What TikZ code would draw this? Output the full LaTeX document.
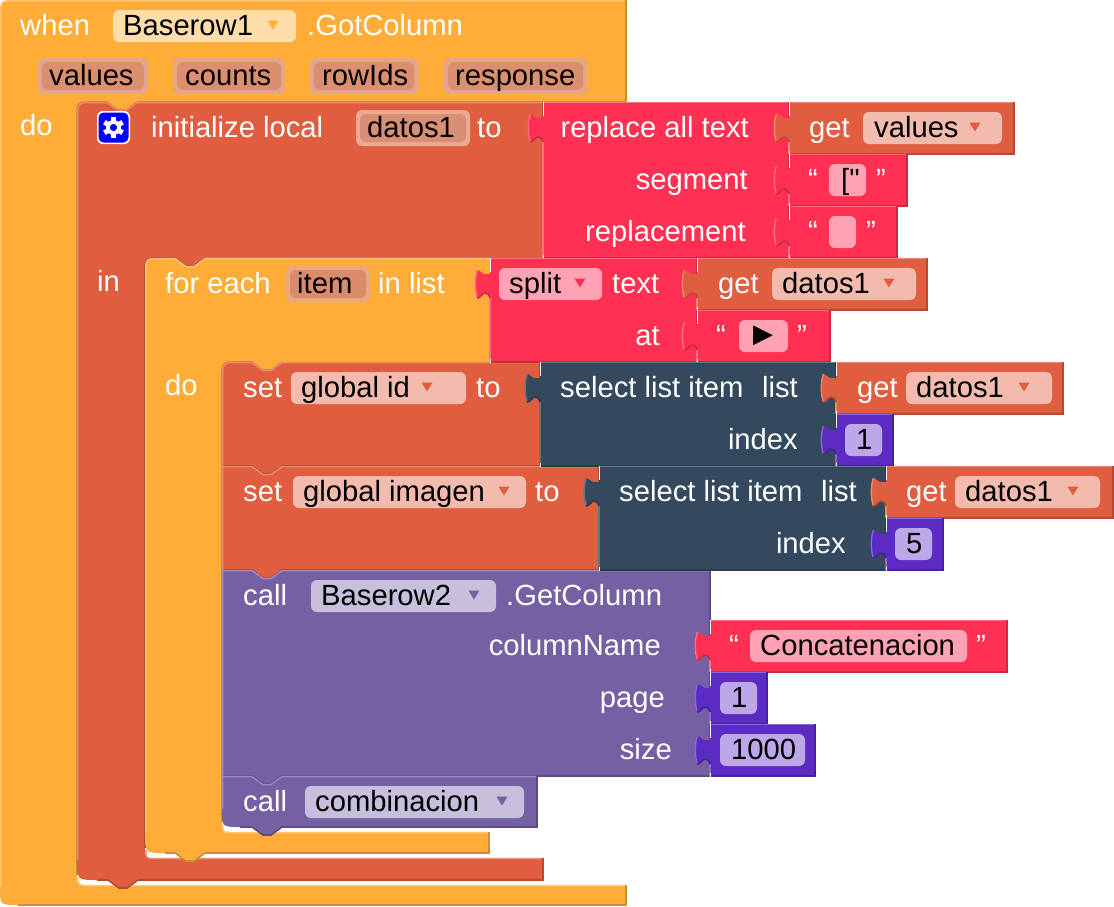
\documentclass[tikz,border=0pt]{standalone}
\usepackage{fontspec}
\setmainfont{Liberation Sans}
\newfontfamily\plainfont{Liberation Sans}
\newfontfamily\symfont{DejaVu Sans}
\definecolor{cOrange}{HTML}{FFAD38}
\definecolor{cOrangeL}{HTML}{FFC878}
\definecolor{cOrangeD}{HTML}{C98F38}
\definecolor{cBrick}{HTML}{E05E3F}
\definecolor{cBrickL}{HTML}{EE8A72}
\definecolor{cBrickD}{HTML}{B34A32}
\definecolor{cPink}{HTML}{FF3052}
\definecolor{cPinkL}{HTML}{FF6F87}
\definecolor{cPinkD}{HTML}{C92A45}
\definecolor{cNavy}{HTML}{34495E}
\definecolor{cNavyL}{HTML}{647588}
\definecolor{cNavyD}{HTML}{2A3A4B}
\definecolor{cPurple}{HTML}{7460A3}
\definecolor{cPurpleL}{HTML}{9C8CBF}
\definecolor{cPurpleD}{HTML}{5C4C82}
\definecolor{cViolet}{HTML}{5B2BC4}
\definecolor{cVioletL}{HTML}{8A68D8}
\definecolor{cVioletD}{HTML}{46219A}
\definecolor{fOrange}{HTML}{FFDDAB}
\definecolor{fBrick}{HTML}{F3BBAD}
\definecolor{fPink}{HTML}{FFA3B4}
\definecolor{fPurple}{HTML}{C7BFDB}
\definecolor{fViolet}{HTML}{BDA7E8}
\definecolor{aOut}{HTML}{E4A68A}
\definecolor{aIn}{HTML}{DC8F6E}
\definecolor{bOut}{HTML}{EDA991}
\definecolor{bIn}{HTML}{D98F76}
\definecolor{cOut}{HTML}{E9A87E}
\definecolor{cIn}{HTML}{D98B6C}
\tikzset{
  x=1pt,y=-1pt,
  lab/.style={font=\fontsize{29.2}{31}\selectfont,inner sep=0pt,text=white},
  txtL/.style={lab,anchor=base west},
  txtR/.style={lab,anchor=base east},
  fld/.style={lab,anchor=base west,text=black},
  edgeL/.style={line width=1.3pt,line cap=butt},
  edgeD/.style={line width=1.6pt,line cap=butt}
}
% left puzzle tab, travelling from bottom to top of the left edge
\newcommand{\tabpath}[2]{(#1,{#2+14}) .. controls ({#1-1},{#2+10}) and ({#1-3},{#2+9}) .. ({#1-5},{#2+9})
  .. controls ({#1-8},{#2+9}) and ({#1-9},{#2+14}) .. ({#1-13},{#2+14})
  .. controls ({#1-16},{#2+6}) and ({#1-16},{#2-6}) .. ({#1-13},{#2-14})
  .. controls ({#1-10},{#2-14}) and ({#1-8},{#2-10}) .. ({#1-5},{#2-10}) -- (#1,{#2-10})}
% value block: x0 y0 x1 y1 colour
\newcommand{\vblock}[5]{%
  \fill[#5] (#1,#2) -- (#3,#2) -- (#3,#4) -- (#1,#4) -- \tabpath{#1}{#2+26} -- cycle;
  \draw[#5L,edgeL] (#1,#4) -- (#1,{#2+40});
  \draw[#5L,edgeL] ({#1-12.6},{#2+40}) .. controls ({#1-15.4},{#2+32}) and ({#1-15.4},{#2+20}) .. ({#1-12.6},{#2+12});
  \draw[#5D,edgeD] ({#1-13},{#2+40}) .. controls ({#1-9},{#2+40}) and ({#1-8},{#2+35}) .. ({#1-5},{#2+35}) .. controls ({#1-3},{#2+35}) and ({#1-1},{#2+36}) .. (#1,{#2+40});
  \draw[#5L,edgeL] (#1,{#2+.6}) -- (#3,{#2+.6});
  \draw[#5D,edgeD] (#3,#2) -- (#3,#4) -- (#1,#4);
  \draw[white,line width=1pt] (#1,{#2-.5}) -- (#1,{#2+14}) (#1,{#4-3}) -- (#1,{#4+.5});
}
% statement block (plain): x0 y0 x1 y1 colour notchx topleft-radius botleft-radius
\newcommand{\sblock}[8]{%
  \fill[#5] (#1,{#2+#7}) .. controls (#1,#2) .. ({#1+#7},#2) -- ({#6-15},#2) -- ({#6-4},{#2+8}) -- ({#6+4},{#2+8}) -- ({#6+15},#2) -- (#3,#2)
    -- (#3,#4) -- ({#6+15},#4) -- ({#6+4},{#4+8}) -- ({#6-4},{#4+8}) -- ({#6-15},#4) -- ({#1+#8},#4) .. controls (#1,#4) .. (#1,{#4-#8}) -- cycle;
  \draw[#5L,edgeL] ({#1+.7},{#4-#8}) -- ({#1+.7},{#2+#7}) .. controls ({#1+.7},{#2+.6}) .. ({#1+#7},{#2+.6}) -- ({#6-15},{#2+.6}) -- ({#6-4},{#2+8.6}) -- ({#6+4},{#2+8.6}) -- ({#6+15},{#2+.6}) -- (#3,{#2+.6});
  \draw[#5D,edgeD] (#3,#2) -- (#3,#4) -- ({#6+15},#4) -- ({#6+4},{#4+8}) -- ({#6-4},{#4+8}) -- ({#6-15},#4) -- ({#1+#8},#4);
}
% field: x0 y0 x1 y1 colour
\newcommand{\fieldbox}[5]{\fill[#5,rounded corners=6pt] (#1,#2) rectangle (#3,#4);}
\newcommand{\dropdown}[3]{\fill[#3] ({#1-5.5},{#2-4.5}) -- ({#1+5.5},{#2-4.5}) -- (#1,{#2+4.5}) -- cycle;}
\begin{document}
\begin{tikzpicture}
\useasboundingbox (0,0) rectangle (1114,906);
\fill[white] (0,0) rectangle (1114,906);
% ---- event block
\fill[cOrange] (0,16) .. controls (0,0) .. (16,0) -- (626,0) -- (626,102) -- (137,102) -- (126,110) -- (118,110) -- (107,102) -- (93,102)
  .. controls (77,102) .. (77,118) -- (77,875) .. controls (77,885) .. (87,885) -- (626,885) -- (626,905) -- (18,905) .. controls (0,905) .. (0,887) -- cycle;
\draw[cOrangeL,edgeL] (.7,887) -- (.7,16) .. controls (.7,.6) .. (16,.6) -- (626,.6);
\draw[cOrangeL,edgeL] (78,877) .. controls (79,885.6) .. (89,885.6) -- (626,885.6);
\draw[cOrangeD,edgeD] (626,0) -- (626,102) -- (137,102) -- (126,110) -- (118,110) -- (107,102) -- (93,102) .. controls (77,102) .. (77,118) -- (77,875);
\draw[cOrangeD,edgeD] (626,885) -- (626,905) -- (18,905);
% ---- initialize local
\fill[cBrick] (77,118) .. controls (77,102) .. (93,102) -- (107,102) -- (118,110) -- (126,110) -- (137,102) -- (543,102) -- (543,258) -- (205,258) -- (194,266) -- (186,266) -- (175,258) -- (161,258)
  .. controls (145,258) .. (145,274) -- (145,848) .. controls (145,858) .. (155,858) -- (543,858) -- (543,880) -- (138,880) -- (127,888) -- (119,888) -- (108,880) -- (97,880) .. controls (77,880) .. (77,860) -- cycle;
\draw[cBrickL,edgeL] (77.7,860) -- (77.7,118) .. controls (77.7,102.6) .. (93,102.6) -- (107,102.6) -- (118,110.6) -- (126,110.6) -- (137,102.6) -- (543,102.6);
\draw[cBrickL,edgeL] (146,850) .. controls (146,858.6) .. (155,858.6) -- (543,858.6);
\draw[cBrickD,edgeD] (543,102) -- (543,258) (145,274) -- (145,848);
\draw[cBrickD,edgeD] (205,258) -- (194,266) -- (186,266) -- (175,258) -- (161,258) .. controls (145,258) .. (145,274);
\draw[cBrickD,edgeD] (543,858) -- (543,880) -- (138,880) -- (127,888) -- (119,888) -- (108,880) -- (97,880);
% ---- for each
\fill[cOrange] (145,274) .. controls (145,258) .. (161,258) -- (175,258) -- (186,266) -- (194,266) -- (205,258) -- (490,258) -- (490,362) -- (282,362) -- (271,370) -- (263,370) -- (252,362) -- (238,362)
  .. controls (222,362) .. (222,378) -- (222,822) .. controls (222,832) .. (232,832) -- (489,832) -- (489,853) -- (205,853) -- (194,861) -- (186,861) -- (175,853) -- (165,853) .. controls (145,853) .. (145,833) -- cycle;
\draw[cOrangeL,edgeL] (145.7,833) -- (145.7,274) .. controls (145.7,258.6) .. (161,258.6) -- (175,258.6) -- (186,266.6) -- (194,266.6) -- (205,258.6) -- (490,258.6);
\draw[cOrangeL,edgeL] (223,824) .. controls (223,832.6) .. (232,832.6) -- (489,832.6);
\draw[cOrangeD,edgeD] (282,362) -- (271,370) -- (263,370) -- (252,362) -- (238,362) .. controls (222,362) .. (222,378) -- (222,822);
\draw[cOrangeD,edgeD] (489,832) -- (489,853) -- (205,853) -- (194,861) -- (186,861) -- (175,853) -- (165,853);
% ---- statement stack
\sblock{222}{362}{540}{466}{cBrick}{267}{16}{0}
\sblock{222}{466}{599}{570}{cBrick}{267}{0}{0}
\sblock{222}{570}{710}{776}{cPurple}{267}{0}{0}
\sblock{222}{776}{537}{827}{cPurple}{267}{0}{18}
% ---- value blocks
\vblock{543}{102}{789}{258}{cPink}
\vblock{789}{102}{1014}{154}{cBrick}
\vblock{789}{154}{907}{206}{cPink}
\vblock{789}{206}{897}{258}{cPink}
\vblock{490}{258}{697}{362}{cPink}
\vblock{697}{258}{927}{310}{cBrick}
\vblock{697}{310}{830}{362}{cPink}
\vblock{540}{362}{836}{466}{cNavy}
\vblock{836}{362}{1063}{414}{cBrick}
\vblock{836}{414}{893}{466}{cViolet}
\vblock{599}{466}{886}{570}{cNavy}
\vblock{886}{466}{1113}{518}{cBrick}
\vblock{886}{518}{943}{570}{cViolet}
\vblock{710}{620}{1007}{672}{cPink}
\vblock{710}{672}{767}{724}{cViolet}
\vblock{710}{724}{815}{776}{cViolet}
% ---- event header
\node[txtL] (tWhen) at (20,35) {when};
\fieldbox{113}{10}{296}{42}{fOrange}
\node[fld] (tB1) at (123,35) {Baserow1};
\dropdown{273}{25}{cOrange}
\node[txtL] (tGot) at (307,35) {.GotColumn};
\fieldbox{38}{58}{148}{94}{aOut}\fieldbox{42}{62}{144}{90}{aIn}
\node[fld] (tValues) at (49,85) {values};
\fieldbox{173}{58}{285}{94}{aOut}\fieldbox{177}{62}{281}{90}{aIn}
\node[fld] (tCounts) at (185,85) {counts};
\fieldbox{310}{58}{418}{94}{aOut}\fieldbox{314}{62}{414}{90}{aIn}
\node[fld] (tRowIds) at (322,85) {rowIds};
\fieldbox{444}{58}{587}{94}{aOut}\fieldbox{448}{62}{583}{90}{aIn}
\node[fld] (tResponse) at (455,85) {response};
\node[txtL] (tDo1) at (20,135) {do};
% ---- initialize
\fill[white,rounded corners=6pt] (97,111) rectangle (130,144);
\fill[blue,rounded corners=5pt] (98.5,112.5) rectangle (128.5,142.5);
\foreach \a in {0,60,...,300}{\fill[white,rotate around={\a:(113.5,127.5)}] (111,117) rectangle (116,122);}
\fill[white] (113.5,127.5) circle[radius=7.5];
\fill[blue] (113.5,127.5) circle[radius=3.6];
\node[txtL] (tInit) at (151,137) {initialize local};
\fieldbox{356}{110}{470}{146}{bOut}\fieldbox{360}{114}{466}{142}{bIn}
\node[fld] (tDatos) at (367,137) {datos1};
\node[txtL] (tTo1) at (477,137) {to};
\node[txtL] (tIn) at (97,291) {in};
\node[txtR] (tRep) at (749,137) {replace all text};
\node[txtR] (tSeg) at (748,189) {segment};
\node[txtR] (tRepl) at (746,241) {replacement};
\node[txtL] (tGet1) at (809,137) {get};
\fieldbox{863}{112}{1002}{144}{fBrick}
\node[fld] (tVal2) at (874,137) {values};
\dropdown{975}{127}{cBrick}
% strings
\node[txtL] (q1a) at (808,189) {“};
\fieldbox{829}{164}{866}{196}{fPink}
\node[fld] (tBr) at (841,189) {\plainfont ["};
\node[txtL] (q1b) at (876,189) {”};
\node[txtL] (q2a) at (808,241) {“};
\fieldbox{829}{216}{856}{248}{fPink}
\node[txtL] (q2b) at (866,241) {”};
% ---- for each
\node[txtL] (tFor) at (165,293) {for each};
\fieldbox{286}{266}{370}{302}{cOut}\fieldbox{290}{270}{366}{298}{cIn}
\node[fld] (tItem) at (297,293) {item};
\node[txtL] (tInList) at (378,293) {in list};
\fieldbox{499}{268}{602}{300}{fPink}
\node[fld] (tSplit) at (509,293) {split};
\dropdown{580}{283}{cPink}
\node[txtL] (tText) at (612,293) {text};
\node[txtR] (tAt) at (660,345) {at};
\node[txtL] (tGet2) at (718,293) {get};
\fieldbox{772}{268}{916}{300}{fBrick}
\node[fld] (tD2) at (782,293) {datos1};
\dropdown{889}{283}{cBrick}
\node[txtL] (q3a) at (716,345) {“};
\fieldbox{739}{320}{788}{352}{fPink}
\node[lab,text=black,font=\symfont\fontsize{26}{28}\selectfont] (tTri) at (763,336) {▶};
\node[txtL] (q3b) at (797,345) {”};
\node[txtL] (tDo2) at (165,395) {do};
% ---- set id
\node[txtL] (tSet1) at (243,397) {set};
\fieldbox{291}{372}{466}{404}{fBrick}
\node[fld] (tGid) at (301,397) {global id};
\dropdown{427}{387}{cBrick}
\node[txtL] (tTo2) at (476,397) {to};
\node[txtL] (tSel1) at (560,397) {select list item};
\node[txtR] (tList1) at (798,397) {list};
\node[txtR] (tIdx1) at (798,449) {index};
\node[txtL] (tGet3) at (857,397) {get};
\fieldbox{906}{372}{1052}{404}{fBrick}
\node[fld] (tD3) at (916,397) {datos1};
\dropdown{1024}{387}{cBrick}
\fieldbox{845}{424}{882}{456}{fViolet}
\node[fld] (tN1) at (856,449) {1};
% ---- set imagen
\node[txtL] (tSet2) at (243,501) {set};
\fieldbox{293}{476}{526}{508}{fBrick}
\node[fld] (tGim) at (303,501) {global imagen};
\dropdown{504}{491}{cBrick}
\node[txtL] (tTo3) at (535,501) {to};
\node[txtL] (tSel2) at (619,501) {select list item};
\node[txtR] (tList2) at (857,501) {list};
\node[txtR] (tIdx2) at (846,553) {index};
\node[txtL] (tGet4) at (906,501) {get};
\fieldbox{955}{476}{1100}{508}{fBrick}
\node[fld] (tD4) at (965,501) {datos1};
\dropdown{1073}{491}{cBrick}
\fieldbox{895}{528}{932}{560}{fViolet}
\node[fld] (tN5) at (906,553) {5};
% ---- call Baserow2
\node[txtL] (tCall1) at (243,605) {call};
\fieldbox{311}{580}{496}{612}{fPurple}
\node[fld] (tB2) at (321,605) {Baserow2};
\dropdown{474}{595}{cPurple}
\node[txtL] (tGot2) at (506,605) {.GetColumn};
\node[txtR] (tCol) at (661,655) {columnName};
\node[txtR] (tPage) at (665,707) {page};
\node[txtR] (tSize) at (672,759) {size};
\node[txtL] (q4a) at (729,655) {“};
\fieldbox{750}{630}{967}{662}{fPink}
\node[fld] (tConc) at (760,655) {Concatenacion};
\node[txtL] (q4b) at (976,655) {”};
\fieldbox{720}{682}{757}{714}{fViolet}
\node[fld] (tP1) at (731,707) {1};
\fieldbox{720}{734}{805}{766}{fViolet}
\node[fld] (tS1) at (731,759) {1000};
% ---- call combinacion
\node[txtL] (tCall2) at (243,811) {call};
\fieldbox{305}{786}{524}{818}{fPurple}
\node[fld] (tComb) at (315,811) {combinacion};
\dropdown{502}{801}{cPurple}
\end{tikzpicture}
\end{document}
